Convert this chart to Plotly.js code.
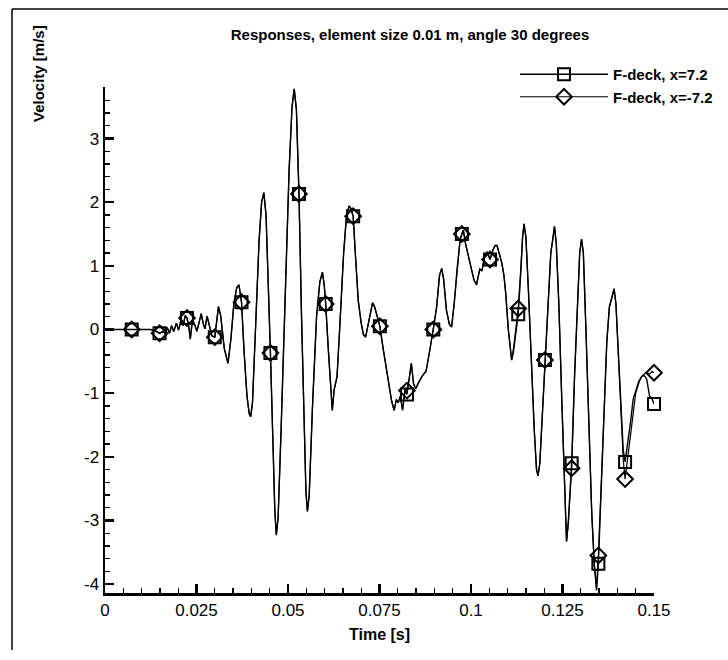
<!DOCTYPE html>
<html>
<head>
<meta charset="utf-8">
<script src="https://cdn.plot.ly/plotly-3.0.1.min.js"></script>
<style>
  html, body { margin: 0; padding: 0; background: #fff; overflow: hidden; }
  #chart { width: 728px; height: 660px; }
</style>
</head>
<body>
<div id="chart"></div>
<script>
// ---- data ----
const timeS = [
  0, 0.0073, 0.0125, 0.0140, 0.0149, 0.0158, 0.0164, 0.0170, 0.0176, 0.0182,
  0.0188, 0.0195, 0.0201, 0.0208, 0.0214, 0.0219, 0.0224, 0.0229, 0.0233, 0.0239,
  0.0245, 0.0251, 0.0257, 0.0263, 0.0268, 0.0273, 0.0279, 0.0285, 0.0292, 0.0300,
  0.0305, 0.0310, 0.0316, 0.0326, 0.0336, 0.0344, 0.0352, 0.0360, 0.0366, 0.0370,
  0.0373, 0.0380, 0.0388, 0.0394, 0.0398, 0.0403, 0.0412, 0.0421, 0.0428, 0.0434,
  0.0440, 0.0446, 0.0452, 0.0459, 0.0464, 0.0468, 0.0473, 0.0481, 0.0492, 0.0503,
  0.0511, 0.0517, 0.0523, 0.0530, 0.0537, 0.0544, 0.0549, 0.0553, 0.0558, 0.0567,
  0.0578, 0.0587, 0.0594, 0.0599, 0.0603, 0.0610, 0.0617, 0.0621, 0.0626, 0.0634,
  0.0642, 0.0652, 0.0660, 0.0667, 0.0672, 0.0678, 0.0685, 0.0692, 0.0700, 0.0706,
  0.0712, 0.0718, 0.0726, 0.0731, 0.0737, 0.0745, 0.0751, 0.0760, 0.0769, 0.0777,
  0.0783, 0.0790, 0.0796, 0.0801, 0.0807, 0.0813, 0.0820, 0.0825, 0.0831, 0.0837,
  0.0843, 0.0849, 0.0855, 0.0860, 0.0868, 0.0877, 0.0887, 0.0897, 0.0906, 0.0914,
  0.0920, 0.0925, 0.0933, 0.0941, 0.0947, 0.0954, 0.0962, 0.0970, 0.0975, 0.0979,
  0.0985, 0.0993, 0.0999, 0.1008, 0.1015, 0.1020, 0.1024, 0.1030, 0.1037, 0.1044,
  0.1052, 0.1060, 0.1066, 0.1071, 0.1078, 0.1084, 0.1090, 0.1095, 0.1102, 0.1108,
  0.1111, 0.1116, 0.1122, 0.1129, 0.1136, 0.1141, 0.1145, 0.1150, 0.1157, 0.1165,
  0.1173, 0.1179, 0.1183, 0.1188, 0.1195, 0.1202, 0.1210, 0.1218, 0.1223, 0.1228,
  0.1233, 0.1240, 0.1248, 0.1255, 0.1261, 0.1266, 0.1275, 0.1283, 0.1291, 0.1297,
  0.1302, 0.1307, 0.1314, 0.1322, 0.1330, 0.1337, 0.1343, 0.1348, 0.1355, 0.1363,
  0.1371, 0.1378, 0.1384, 0.1391, 0.1396, 0.1403, 0.1410, 0.1416, 0.1421, 0.1428,
  0.1436, 0.1443, 0.1450, 0.1458, 0.1466, 0.1473, 0.1480, 0.1488, 0.1494, 0.1500
];

// F-deck, x=7.2
const velPos = [
  0, 0, 0, -0.03, -0.06, -0.03, -0.06, 0.03, -0.06, 0.06,
  -0.03, 0.10, -0.01, 0.15, 0.06, 0.22, 0.18, 0.05, -0.15, 0.15,
  0.08, -0.03, 0.10, 0.25, 0.10, 0.01, 0.21, 0.04, -0.10, -0.12,
  0.08, 0.36, 0.22, -0.30, -0.53, -0.15, 0.40, 0.66, 0.70, 0.55,
  0.43, -0.35, -1.05, -1.32, -1.37, -1.15, 0.10, 1.40, 2.00, 2.15,
  1.80, 0.80, -0.37, -1.80, -2.85, -3.23, -2.95, -1.60, 0.60, 2.50,
  3.50, 3.78, 3.45, 2.13, 0.20, -1.60, -2.55, -2.86, -2.60, -1.20,
  0.20, 0.75, 0.90, 0.70, 0.40, -0.30, -1.05, -1.27, -0.95, -0.74,
  0.10, 1.20, 1.80, 1.94, 1.90, 1.78, 1.10, 0.45, 0.10, -0.08,
  -0.12, 0.05, 0.30, 0.42, 0.35, 0.15, 0.05, -0.30, -0.64, -0.95,
  -1.12, -1.27, -1.10, -1.15, -1.05, -1.27, -0.95, -1.02, -0.80, -0.53,
  -0.85, -0.93, -0.85, -0.80, -0.72, -0.66, -0.35, 0.00, 0.35, 0.85,
  0.96, 0.80, 0.30, 0.08, 0.04, 0.40, 0.95, 1.40, 1.50, 1.56,
  1.35, 1.15, 0.98, 0.78, 0.70, 0.85, 0.95, 0.92, 1.15, 1.22,
  1.10, 1.25, 1.32, 1.32, 1.15, 1.05, 0.85, 0.56, 0.00, -0.40,
  -0.48, -0.35, -0.05, 0.24, 0.90, 1.45, 1.66, 1.45, 0.60, -0.60,
  -1.60, -2.20, -2.30, -2.10, -1.30, -0.48, 0.40, 1.20, 1.40, 1.62,
  1.35, 0.40, -1.10, -2.50, -3.33, -3.00, -2.10, -0.70, 0.50, 1.20,
  1.42, 1.20, 0.00, -1.60, -2.90, -3.70, -4.10, -3.68, -2.60, -1.30,
  -0.20, 0.35, 0.50, 0.64, 0.40, -0.40, -1.30, -1.90, -2.08, -1.80,
  -1.45, -1.10, -0.95, -0.82, -0.74, -0.72, -0.78, -1.05, -1.08, -1.17
];

// F-deck, x=-7.2
const velNeg = [
  0, 0, 0, -0.03, -0.06, -0.03, -0.06, 0.03, -0.06, 0.06,
  -0.03, 0.10, -0.01, 0.15, 0.06, 0.22, 0.18, 0.05, -0.15, 0.15,
  0.08, -0.03, 0.10, 0.25, 0.10, 0.01, 0.21, 0.04, -0.10, -0.12,
  0.08, 0.36, 0.22, -0.30, -0.53, -0.15, 0.40, 0.66, 0.70, 0.55,
  0.43, -0.35, -1.05, -1.32, -1.37, -1.15, 0.10, 1.40, 2.00, 2.15,
  1.80, 0.80, -0.37, -1.80, -2.85, -3.23, -2.95, -1.60, 0.60, 2.50,
  3.50, 3.78, 3.45, 2.13, 0.20, -1.60, -2.55, -2.86, -2.60, -1.20,
  0.20, 0.75, 0.90, 0.70, 0.40, -0.30, -1.05, -1.27, -0.95, -0.74,
  0.10, 1.20, 1.80, 1.94, 1.90, 1.78, 1.10, 0.45, 0.10, -0.08,
  -0.12, 0.05, 0.30, 0.42, 0.35, 0.15, 0.05, -0.30, -0.64, -0.95,
  -1.12, -1.27, -1.10, -1.15, -1.05, -1.25, -0.92, -0.96, -0.78, -0.53,
  -0.85, -0.93, -0.85, -0.80, -0.72, -0.66, -0.35, 0.00, 0.35, 0.85,
  0.96, 0.80, 0.30, 0.08, 0.04, 0.40, 0.95, 1.40, 1.50, 1.56,
  1.35, 1.15, 0.98, 0.78, 0.70, 0.85, 0.95, 0.92, 1.15, 1.22,
  1.10, 1.25, 1.32, 1.32, 1.15, 1.05, 0.85, 0.56, 0.00, -0.40,
  -0.48, -0.30, 0.02, 0.33, 0.95, 1.47, 1.66, 1.45, 0.60, -0.60,
  -1.60, -2.20, -2.30, -2.10, -1.30, -0.48, 0.40, 1.20, 1.40, 1.62,
  1.35, 0.40, -1.10, -2.50, -3.33, -3.05, -2.18, -0.75, 0.50, 1.20,
  1.42, 1.20, 0.00, -1.60, -2.90, -3.70, -4.05, -3.55, -2.50, -1.30,
  -0.20, 0.35, 0.50, 0.64, 0.40, -0.40, -1.35, -2.05, -2.35, -2.00,
  -1.60, -1.30, -1.00, -0.85, -0.74, -0.70, -0.68, -0.70, -0.66, -0.68
];

// symbol positions (every 0.0075 s)
const markTime = [0.0073, 0.0149, 0.0224, 0.0300, 0.0373, 0.0452, 0.0530, 0.0603, 0.0678, 0.0751,
                  0.0825, 0.0897, 0.0975, 0.1052, 0.1129, 0.1202, 0.1275, 0.1348, 0.1421, 0.1500];
const markPos = [0, -0.06, 0.18, -0.12, 0.43, -0.37, 2.13, 0.40, 1.78, 0.05,
                 -1.02, 0.00, 1.50, 1.10, 0.24, -0.48, -2.10, -3.68, -2.08, -1.17];
const markNeg = [0, -0.06, 0.18, -0.12, 0.43, -0.37, 2.13, 0.40, 1.78, 0.05,
                 -0.96, 0.00, 1.50, 1.10, 0.33, -0.48, -2.18, -3.55, -2.35, -0.68];

const seriesNames = ['F-deck, x=7.2', 'F-deck, x=-7.2'];
const xTickVals = [0, 0.025, 0.05, 0.075, 0.1, 0.125, 0.15];
const xTickText = ['0', '0.025', '0.05', '0.075', '0.1', '0.125', '0.15'];
const yTickVals = [-4, -3, -2, -1, 0, 1, 2, 3];
const yTickText = ['-4', '-3', '-2', '-1', '0', '1', '2', '3'];

// ---- figure ----
const FONT = 'Liberation Sans, Arial, Helvetica, sans-serif';
const mk = (sym) => ({ symbol: sym, size: 12, color: '#000', line: { color: '#000', width: 2 } });

const traces = [
  { x: timeS, y: velPos, mode: 'lines', line: { color: '#000', width: 1.4 }, showlegend: false, hoverinfo: 'skip' },
  { x: timeS, y: velNeg, mode: 'lines', line: { color: '#000', width: 1.2 }, showlegend: false, hoverinfo: 'skip' },
  { x: markTime, y: markPos, mode: 'markers', marker: mk('square-open'), showlegend: false, cliponaxis: false },
  { x: markTime, y: markNeg, mode: 'markers', marker: mk('diamond-open'), showlegend: false, cliponaxis: false },
  { x: [null], y: [null], mode: 'lines+markers', name: seriesNames[0],
    line: { color: '#000', width: 1.4 }, marker: mk('square-open') },
  { x: [null], y: [null], mode: 'lines+markers', name: seriesNames[1],
    line: { color: '#000', width: 1.1 }, marker: mk('diamond-open') }
];

const axisCommon = {
  showgrid: false, zeroline: false, showline: true, linecolor: '#000', linewidth: 2.5,
  ticks: 'inside', ticklen: 9, tickwidth: 2.5, tickcolor: '#000',
  tickfont: { family: FONT, size: 17, color: '#000' }, mirror: false, fixedrange: true
};

// page frame (left and top border of the figure), in paper units
const PW = 549, PH = 506, PL = 105, PB = 593;
const px2x = (p) => (p - PL) / PW;
const py2y = (p) => (PB - p) / PH;

const layout = {
  width: 728, height: 660,
  paper_bgcolor: '#fff', plot_bgcolor: '#fff',
  margin: { l: 105, r: 74, t: 87, b: 67, autoexpand: false },
  title: {
    text: 'Responses, element size 0.01 m, angle 30 degrees',
    xref: 'container', x: 410 / 728, xanchor: 'center',
    yref: 'container', y: 1 - 35 / 660, yanchor: 'middle',
    font: { family: FONT, size: 15, weight: 'bold', color: '#000' }
  },
  xaxis: Object.assign({}, axisCommon, {
    range: [0, 0.15], tickmode: 'array', tickvals: xTickVals, ticktext: xTickText,
    minor: { dtick: 0.005, tick0: 0, ticks: 'inside', ticklen: 5, tickwidth: 1.3, tickcolor: '#000', showgrid: false },
    title: { text: 'Time [s]', standoff: 10, font: { family: FONT, size: 16, weight: 'bold', color: '#000' } }
  }),
  yaxis: Object.assign({}, axisCommon, {
    range: [-4.14, 3.81], tickmode: 'array', tickvals: yTickVals, ticktext: yTickText,
    minor: { dtick: 0.2, tick0: 0, ticks: 'inside', ticklen: 5, tickwidth: 1.3, tickcolor: '#000', showgrid: false }
  }),
  shapes: [
    { type: 'line', xref: 'paper', yref: 'paper', x0: px2x(12), x1: px2x(740), y0: py2y(9), y1: py2y(9),
      line: { color: '#000', width: 1.5 } },
    { type: 'line', xref: 'paper', yref: 'paper', x0: px2x(12), x1: px2x(12), y0: py2y(9), y1: py2y(650),
      line: { color: '#000', width: 1.5 } }
  ],
  annotations: [{
    text: 'Velocity [m/s]', textangle: -90, showarrow: false,
    xref: 'paper', yref: 'paper', x: px2x(39), y: py2y(74),
    xanchor: 'center', yanchor: 'middle',
    font: { family: FONT, size: 15, weight: 'bold', color: '#000' }
  }],
  legend: {
    x: px2x(515), xanchor: 'left', y: py2y(58), yanchor: 'top',
    bgcolor: 'rgba(0,0,0,0)', borderwidth: 0, itemwidth: 88,
    font: { family: FONT, size: 15, weight: 'bold', color: '#000' },
    tracegroupgap: 0
  },
  showlegend: true
};

Plotly.newPlot('chart', traces, layout, { staticPlot: true, displayModeBar: false });
</script>
</body>
</html>
